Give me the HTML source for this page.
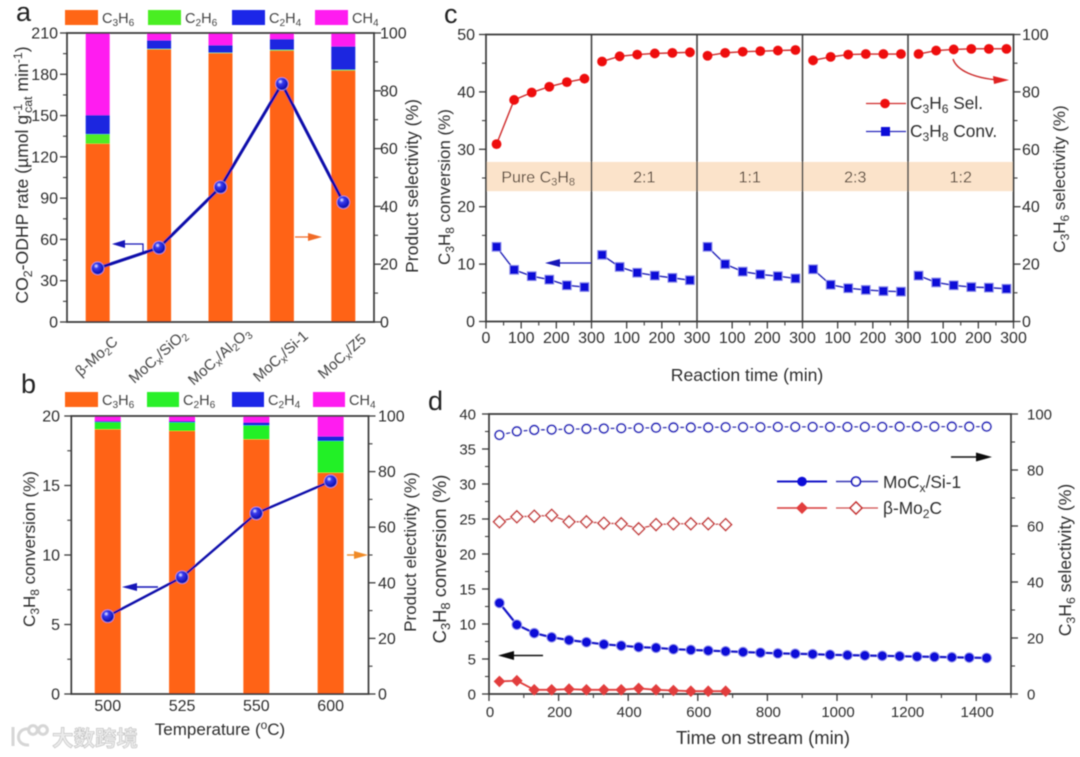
<!DOCTYPE html>
<html lang="en">
<head>
<meta charset="utf-8">
<title>Catalyst performance charts</title>
<style>
html,body{margin:0;padding:0;background:#fff;width:1080px;height:757px;overflow:hidden}
svg{display:block}
text{font-family:"Liberation Sans","Noto Sans CJK SC",sans-serif;fill:#2e2e2e}
.t{font-size:16px}
.dt{font-size:15px}
.ti{font-size:17px}
.tl{font-size:17.6px}
.td{font-size:18.4px}
.lg{font-size:14.5px;fill:#444}
.lc{font-size:17.3px}
.sb{font-size:.7em;baseline-shift:-.3em}
.sp{font-size:.7em;baseline-shift:.5em}
.pl{font-size:27px;fill:#222}
</style>
</head>
<body>
<svg id="chart" xmlns="http://www.w3.org/2000/svg" width="1080" height="757" viewBox="0 0 1080 757">
<defs>
<filter id="soft" x="-2%" y="-2%" width="104%" height="104%"><feGaussianBlur stdDeviation="0.42"/></filter>
<radialGradient id="ball" cx="38%" cy="32%" r="68%"><stop offset="0" stop-color="#f0f2ff"/><stop offset=".28" stop-color="#3a3cf0"/><stop offset="1" stop-color="#0808a8"/></radialGradient>
</defs>
<g id="root" filter="url(#soft)">

<g>
<g fill="none" stroke="#d6d6d6" stroke-width="3">
<path d="M13 727 L13 746"/><path d="M29 729 C16 727 14 746 29 745"/><circle cx="33" cy="730" r="4.4"/><circle cx="43" cy="730" r="4.4"/>
</g>
<text x="52" y="746" font-size="21.5" font-weight="700" style="fill:#ebebeb;stroke:#bdbdbd;stroke-width:.6">大数跨境</text>
</g>

<text class="pl" x="16" y="21">a</text>
<text class="pl" x="21" y="393">b</text>
<text class="pl" x="444" y="23">c</text>
<text class="pl" x="428" y="410">d</text>

<g>
<rect x="65" y="10" width="33" height="15" fill="#ff6618"/><text class="lg" x="102" y="23">C<tspan class="sb">3</tspan>H<tspan class="sb">6</tspan></text>
<rect x="148" y="10" width="33" height="15" fill="#48ee24"/><text class="lg" x="185" y="23">C<tspan class="sb">2</tspan>H<tspan class="sb">6</tspan></text>
<rect x="232" y="10" width="33" height="15" fill="#1a26e8"/><text class="lg" x="269" y="23">C<tspan class="sb">2</tspan>H<tspan class="sb">4</tspan></text>
<rect x="315" y="10" width="33" height="15" fill="#ff1cf0"/><text class="lg" x="352" y="23">CH<tspan class="sb">4</tspan></text>
</g>
<g>
<rect x="65" y="392" width="33" height="15" fill="#ff6618"/><text class="lg" x="102" y="405">C<tspan class="sb">3</tspan>H<tspan class="sb">6</tspan></text>
<rect x="147" y="392" width="32" height="15" fill="#2cf02c"/><text class="lg" x="183" y="405">C<tspan class="sb">2</tspan>H<tspan class="sb">6</tspan></text>
<rect x="232" y="392" width="32" height="15" fill="#1a26e8"/><text class="lg" x="268" y="405">C<tspan class="sb">2</tspan>H<tspan class="sb">4</tspan></text>
<rect x="313" y="392" width="32" height="15" fill="#ff1cf0"/><text class="lg" x="349" y="405">CH<tspan class="sb">4</tspan></text>
</g>

<g id="panelA"></g>
<g id="panelB"></g>
<g id="panelC"></g>
<g id="panelD"></g>

<text class="tl" transform="translate(28 175) rotate(-90)" text-anchor="middle">CO<tspan class="sb">2</tspan>-ODHP rate (µmol g<tspan class="sp">-1</tspan><tspan class="sb" dx="-9">cat</tspan> min<tspan class="sp">-1</tspan>)</text>
<text class="tl" transform="translate(418 186) rotate(-90)" text-anchor="middle">Product selectivity (%)</text>
<text class="ti" transform="translate(35 549) rotate(-90)" text-anchor="middle">C<tspan class="sb">3</tspan>H<tspan class="sb">8</tspan> conversion (%)</text>
<text class="ti" transform="translate(416 552) rotate(-90)" text-anchor="middle">Product electivity (%)</text>
<text class="ti" x="220" y="735" text-anchor="middle">Temperature (<tspan class="sp">o</tspan>C)</text>
<text class="ti" transform="translate(450 187) rotate(-90)" text-anchor="middle">C<tspan class="sb">3</tspan>H<tspan class="sb">8</tspan> conversion (%)</text>
<text class="ti" transform="translate(1065 179) rotate(-90)" text-anchor="middle">C<tspan class="sb">3</tspan>H<tspan class="sb">6</tspan> selectivity (%)</text>
<text class="tl" x="747" y="381" text-anchor="middle">Reaction time (min)</text>
<text class="td" transform="translate(446 559) rotate(-90)" text-anchor="middle">C<tspan class="sb">3</tspan>H<tspan class="sb">8</tspan> conversion (%)</text>
<text class="tl" transform="translate(1071 560) rotate(-90)" text-anchor="middle">C<tspan class="sb">3</tspan>H<tspan class="sb">6</tspan> selectivity (%)</text>
<text class="td" x="763" y="744" text-anchor="middle">Time on stream (min)</text>

<g>
<text class="lc" x="910" y="109">C<tspan class="sb">3</tspan>H<tspan class="sb">6</tspan> Sel.</text>
<text class="lc" x="910" y="137">C<tspan class="sb">3</tspan>H<tspan class="sb">8</tspan> Conv.</text>
<line x1="866" y1="103.5" x2="906" y2="103.5" stroke="#cf2a2a" stroke-width="1.3"/>
<circle cx="885" cy="103.5" r="4.8" fill="#ee1111"/>
<line x1="866" y1="131.5" x2="906" y2="131.5" stroke="#2626bb" stroke-width="1.3"/>
<rect x="881" y="127" width="9" height="9" fill="#0b0bd8"/>
</g>

<g>
<line x1="777" y1="481.5" x2="827" y2="481.5" stroke="#1414c8" stroke-width="2"/>
<circle cx="802" cy="481.5" r="4.8" fill="#0b0bd8"/>
<line x1="836" y1="481.5" x2="878" y2="481.5" stroke="#3434b4" stroke-width="1.4"/>
<circle cx="856" cy="481.5" r="4.4" fill="#fff" stroke="#1414c0" stroke-width="1.8"/>
<text class="lc" x="883" y="488">MoC<tspan class="sb">x</tspan>/Si-1</text>
<line x1="777" y1="508" x2="827" y2="508" stroke="#d83a3a" stroke-width="1.6"/>
<path d="M802 502 L808 508 L802 514 L796 508 Z" fill="#e23c3c"/>
<line x1="836" y1="508" x2="878" y2="508" stroke="#d05050" stroke-width="1.3"/>
<path d="M856 502 L862 508 L856 514 L850 508 Z" fill="#fff" stroke="#c83030" stroke-width="1.6"/>
<text class="lc" x="883" y="514">β-Mo<tspan class="sb">2</tspan>C</text>
</g>

<g>
<path d="M143 252 L143 244 L118 244" fill="none" stroke="#1414b8" stroke-width="1.2"/>
<path d="M112 244 L125 240 L125 248 Z" fill="#1414b8"/>
<path d="M295 237 L312 237" stroke="#f06a28" stroke-width="1.3"/>
<path d="M322 237 L308 233 L308 241 Z" fill="#f06a28"/>
<path d="M158 587 L130 587" stroke="#1414b8" stroke-width="1.4"/>
<path d="M122 587 L137 583 L137 591 Z" fill="#1414b8"/>
<path d="M347 555 L358 555" stroke="#f08a28" stroke-width="1.4"/>
<path d="M368 555 L354 551 L354 559 Z" fill="#f08a28"/>
<path d="M591 263 L552 263" stroke="#1414b8" stroke-width="1.3"/>
<path d="M545 263 L560 259 L560 267 Z" fill="#1414b8"/>
<path d="M953 59 C957 71 975 78 998 80" fill="none" stroke="#cc2a2a" stroke-width="1.4"/>
<path d="M1009 80 L993 76 L994 84 Z" fill="#e02020"/>
<path d="M543 655.5 L508 655.5" stroke="#111" stroke-width="1.6"/>
<path d="M498 655.5 L514 651 L514 660 Z" fill="#111"/>
<path d="M951 457 L982 457" stroke="#111" stroke-width="1.6"/>
<path d="M992 457 L976 452.5 L976 461.5 Z" fill="#111"/>
</g>
</g>
</svg>

<script>
/* ---------- panel a data ---------- */
const catsA = ["β-Mo_2C", "MoC_x/SiO_2", "MoC_x/Al_2O_3", "MoC_x/Si-1", "MoC_x/Z5"];
const aC3H6 = [61.7, 94.3, 93.0, 93.9, 87.0];
const aC2H6 = [3.3, 0.2, 0.2, 0.3, 0.3];
const aC2H4 = [6.6, 3.0, 2.6, 3.7, 8.1];
const aCH4 = [28.4, 2.5, 4.2, 2.1, 4.6];
const aRate = [39, 54, 98, 173, 87];
const aLeftTicks = [0, 30, 60, 90, 120, 150, 180, 210];
const aRightTicks = [0, 20, 40, 60, 80, 100];

/* ---------- panel b data ---------- */
const catsB = ["500", "525", "550", "600"];
const bC3H6 = [95.2, 94.6, 91.6, 79.6];
const bC2H6 = [2.6, 3.1, 5.0, 11.4];
const bC2H4 = [0.4, 0.5, 1.1, 1.7];
const bCH4 = [1.8, 1.8, 2.3, 7.3];
const bConversion = [5.6, 8.4, 13.0, 15.3];
const bLeftTicks = [0, 5, 10, 15, 20];
const bRightTicks = [0, 20, 40, 60, 80, 100];

/* ---------- panel c data ---------- */
const cRatios = ["Pure C_3H_8", "2:1", "1:1", "2:3", "1:2"];
const cTimes = [30, 80, 130, 180, 230, 280];
const cSelectivity = [
  [61.8, 77.2, 79.8, 81.8, 83.4, 84.6],
  [90.6, 92.4, 93.0, 93.4, 93.6, 93.8],
  [92.6, 93.6, 94.0, 94.2, 94.4, 94.6],
  [91.0, 92.2, 93.0, 93.2, 93.2, 93.2],
  [93.2, 94.4, 94.8, 95.0, 95.0, 95.0]
];
const cConversion = [
  [13.0, 9.0, 7.9, 7.3, 6.3, 6.0],
  [11.6, 9.5, 8.5, 8.0, 7.6, 7.2],
  [13.0, 10.0, 8.7, 8.2, 7.9, 7.5],
  [9.1, 6.4, 5.8, 5.5, 5.3, 5.2],
  [8.0, 6.8, 6.3, 6.0, 5.9, 5.7]
];
const cLeftTicks = [0, 10, 20, 30, 40, 50];
const cRightTicks = [0, 20, 40, 60, 80, 100];
const cTimeTicks = [0, 100, 200, 300];

/* ---------- panel d data ---------- */
const dTimes = [30, 80, 130, 180, 230, 280, 330, 380, 430, 480, 530, 580, 630, 680, 730, 780, 830, 880, 930, 980, 1030, 1080, 1130, 1180, 1230, 1280, 1330, 1380, 1430];
const dMocConv = [13, 9.9, 8.7, 8.1, 7.7, 7.4, 7.1, 6.9, 6.7, 6.6, 6.4, 6.3, 6.2, 6.1, 6.0, 5.9, 5.8, 5.75, 5.7, 5.6, 5.55, 5.5, 5.45, 5.4, 5.35, 5.3, 5.25, 5.2, 5.15];
const dMocSel = [92.5, 93.8, 94.3, 94.4, 94.6, 94.7, 94.8, 94.9, 95.0, 95.1, 95.2, 95.2, 95.2, 95.3, 95.3, 95.3, 95.4, 95.4, 95.4, 95.4, 95.4, 95.4, 95.4, 95.5, 95.5, 95.5, 95.5, 95.5, 95.5];
const dMo2cTimes = [30, 80, 130, 180, 230, 280, 330, 380, 430, 480, 530, 580, 630, 680];
const dMo2cConv = [1.8, 1.9, 0.6, 0.6, 0.7, 0.6, 0.6, 0.6, 0.8, 0.6, 0.5, 0.4, 0.4, 0.4];
const dMo2cSel = [61.5, 63.3, 63.5, 63.8, 61.5, 61.5, 61.0, 60.8, 59.0, 60.5, 60.8, 60.8, 60.8, 60.5];
const dLeftTicks = [0, 5, 10, 15, 20, 25, 30, 35, 40];
const dRightTicks = [0, 20, 40, 60, 80, 100];
const dTimeTicks = [0, 200, 400, 600, 800, 1000, 1200, 1400];

const NS = "http://www.w3.org/2000/svg";
const AXIS = "#3a3a3a";

function el(parent, tag, attrs) {
  const e = document.createElementNS(NS, tag);
  for (const k in attrs) e.setAttribute(k, attrs[k]);
  parent.appendChild(e);
  return e;
}
function linear(d0, d1, r0, r1) {
  return function (v) { return r0 + (v - d0) * (r1 - r0) / (d1 - d0); };
}
function rich(node, s) {
  node.innerHTML = s.replace(/_(\w)/g, '<tspan class="sb">$1</tspan>');
}
function frame(g, L, R, T, B) {
  const f = el(g, "path", { d: "M" + L + " " + B + " L" + L + " " + T + " L" + R + " " + T + " L" + R + " " + B + " Z", fill: "none", stroke: AXIS, "stroke-width": 1.7 });
  
  
}
function yAxis(g, scale, ticks, minorStep, xAxis, side, cls, labelX) {
  const ax = el(g, "g", {});
  
  
  ticks.forEach(function (v, i) {
    const y = scale(v);
    const t = el(ax, "line", { x1: xAxis, x2: xAxis + side * 7, y1: y, y2: y, stroke: AXIS, "stroke-width": 1.3 });
    
    
    const lab = el(ax, "text", { x: labelX, y: y + 5.5, class: cls, "text-anchor": side < 0 ? "end" : "start" });
    lab.textContent = String(v);
    
    
    if (i < ticks.length - 1) {
      const my = scale(v + minorStep);
      const m = el(ax, "line", { x1: xAxis, x2: xAxis + side * 4, y1: my, y2: my, stroke: AXIS, "stroke-width": 1.1 });
      
      
    }
  });
}
function stackedBars(g, cats, series, colors, xc, w, y) {
  cats.forEach(function (c, i) {
    let acc = 0;
    series.forEach(function (s, k) {
      const r = el(g, "rect", { x: xc(i) - w / 2, y: y(acc + s[i]), width: w, height: y(acc) - y(acc + s[i]), fill: colors[k] });
      
      
      acc += s[i];
    });
  });
}
function ballLine(g, xs, ys, width) {
  const d = xs.map(function (x, i) { return (i ? "L" : "M") + x + " " + ys[i]; }).join(" ");
  const p = el(g, "path", { d: d, fill: "none", stroke: "#0d0daa", "stroke-width": width, "stroke-linejoin": "round" });
  
  
  xs.forEach(function (x, i) {
    const c = el(g, "circle", { cx: x, cy: ys[i], r: 6.3, fill: "url(#ball)", stroke: "#8f8ff0", "stroke-width": .7 });
    
    
  });
}
const BAR_COLORS_A = ["#ff6414", "#50ec28", "#1a26e0", "#ff1cf0"];
const BAR_COLORS_B = ["#ff6414", "#22f028", "#1a26e0", "#ff1cf0"];

/* panel a */
(function () {
  const g = document.getElementById("panelA");
  const L = 67, R = 374, T = 33, B = 322;
  const yPct = linear(0, 100, B, T), yRate = linear(0, 210, B, T);
  const step = (R - L) / catsA.length;
  const xc = function (i) { return L + step * (i + .5); };
  stackedBars(g, catsA, [aC3H6, aC2H6, aC2H4, aCH4], BAR_COLORS_A, xc, 24, yPct);
  frame(g, L, R, T, B);
  yAxis(g, yRate, aLeftTicks, 15, L, -1, "t", 58);
  yAxis(g, yPct, aRightTicks, 10, R, 1, "t", 380);
  catsA.forEach(function (c, i) {
    const x = xc(i);
    const lab = el(g, "text", { transform: "translate(" + (x + 2) + " 360) rotate(-42)", class: "lg", "text-anchor": "middle", style: "font-size:15px" });
    rich(lab, c);
    
    
  });
  ballLine(g, catsA.map(function (c, i) { return xc(i); }), aRate.map(yRate), 3);
})();

/* panel b */
(function () {
  const g = document.getElementById("panelB");
  const L = 71.3, R = 368.5, T = 416, B = 694;
  const yPct = linear(0, 100, B, T), yConv = linear(0, 20, B, T);
  const step = (R - L) / catsB.length;
  const xc = function (i) { return L + step * (i + .5) - .7; };
  stackedBars(g, catsB, [bC3H6, bC2H6, bC2H4, bCH4], BAR_COLORS_B, xc, 26, yPct);
  frame(g, L, R, T, B);
  yAxis(g, yConv, bLeftTicks, 2.5, L, -1, "t", 60);
  yAxis(g, yPct, bRightTicks, 10, R, 1, "t", 378);
  catsB.forEach(function (c, i) {
    const lab = el(g, "text", { x: xc(i), y: 711, class: "t", "text-anchor": "middle" });
    lab.textContent = c;
    
    
  });
  ballLine(g, catsB.map(function (c, i) { return xc(i); }), bConversion.map(yConv), 2.4);
})();

/* panel c */
(function () {
  const g = document.getElementById("panelC");
  const L = 486, R = 1013.5, T = 34.5, B = 321.5;
  const segW = (R - L) / cRatios.length;
  const xs = function (seg, t) { return L + segW * (seg + t / 300); };
  const yL = linear(0, 50, B, T), yR = linear(0, 100, B, T);
  const band = el(g, "rect", { x: L, y: yL(27.8), width: R - L, height: yL(22.7) - yL(27.8), fill: "#fbe3ca" });
  
  
  cRatios.forEach(function (r, s) {
    const lab = el(g, "text", { x: xs(s, 150) + (s === 0 ? -.5 : 0), y: 182.5, class: "t", "text-anchor": "middle", style: "fill:#5a4a3a" });
    rich(lab, r);
    
    
    if (s > 0) {
      const d = el(g, "line", { x1: xs(s, 0), x2: xs(s, 0), y1: T, y2: B, stroke: AXIS, "stroke-width": 1.5 });
      
      
    }
  });
  frame(g, L, R, T, B);
  yAxis(g, yL, cLeftTicks, 5, L, -1, "t", 475);
  yAxis(g, yR, cRightTicks, 10, R, 1, "t", 1022);
  cRatios.forEach(function (r, s) {
    cTimeTicks.forEach(function (v, i) {
      if (s > 0 && i === 0) return;
      const x = xs(s, v);
      const t = el(g, "line", { x1: x, x2: x, y1: B, y2: B + 7, stroke: AXIS, "stroke-width": 1.3 });
      
      
      const lab = el(g, "text", { x: x, y: 343, class: "t", "text-anchor": "middle" });
      lab.textContent = String(v);
      
      
      if (i < cTimeTicks.length - 1) {
        const mx = xs(s, v + 50);
        const m = el(g, "line", { x1: mx, x2: mx, y1: B, y2: B + 4, stroke: AXIS, "stroke-width": 1.1 });
        
        
      }
    });
    const sel = el(g, "path", { d: cTimes.map(function (t, i) { return (i ? "L" : "M") + xs(s, t) + " " + yR(cSelectivity[s][i]); }).join(" "), fill: "none", stroke: "#cf2a2a", "stroke-width": 1.4 });
    
    
    const con = el(g, "path", { d: cTimes.map(function (t, i) { return (i ? "L" : "M") + xs(s, t) + " " + yL(cConversion[s][i]); }).join(" "), fill: "none", stroke: "#2222b8", "stroke-width": 1.4 });
    
    
    cTimes.forEach(function (t, i) {
      const c = el(g, "circle", { cx: xs(s, t), cy: yR(cSelectivity[s][i]), r: 4.9, fill: "#ee1111" });
      
      
      const q = el(g, "rect", { x: xs(s, t) - 4.5, y: yL(cConversion[s][i]) - 4.5, width: 9, height: 9, fill: "#0b0bd8", stroke: "#9a9af0", "stroke-width": .8 });
      
      
    });
  });
})();

/* panel d */
(function () {
  const g = document.getElementById("panelD");
  const L = 489, R = 1011, T = 414, B = 694;
  const x = linear(0, 1500, L, R);
  const yL = linear(0, 40, B, T), yR = linear(0, 100, B, T);
  frame(g, L, R, T, B);
  yAxis(g, yL, dLeftTicks, 2.5, L, -1, "dt", 476);
  yAxis(g, yR, dRightTicks, 10, R, 1, "dt", 1027);
  dTimeTicks.forEach(function (v) {
    const t = el(g, "line", { x1: x(v), x2: x(v), y1: B, y2: B + 7, stroke: AXIS, "stroke-width": 1.3 });
    
    
    const lab = el(g, "text", { x: x(v) + 1, y: 717, class: "dt", "text-anchor": "middle" });
    lab.textContent = String(v);
    
    
    const m = el(g, "line", { x1: x(v + 100), x2: x(v + 100), y1: B, y2: B + 4, stroke: AXIS, "stroke-width": 1.1 });
    
    
  });
  function pathOf(ts, vs, sc) {
    return ts.map(function (t, i) { return (i ? "L" : "M") + x(t) + " " + sc(vs[i]); }).join(" ");
  }
  function diamond(cx, cy, r) {
    return "M" + cx + " " + (cy - r) + " L" + (cx + r) + " " + cy + " L" + cx + " " + (cy + r) + " L" + (cx - r) + " " + cy + " Z";
  }
  const l1 = el(g, "path", { d: pathOf(dTimes, dMocSel, yR), fill: "none", stroke: "#3434b4", "stroke-width": 1.3 });
  
  
  const l2 = el(g, "path", { d: pathOf(dMo2cTimes, dMo2cSel, yR), fill: "none", stroke: "#c84040", "stroke-width": 1.3 });
  
  
  const l3 = el(g, "path", { d: pathOf(dTimes, dMocConv, yL), fill: "none", stroke: "#1414c8", "stroke-width": 2.2 });
  
  
  const l4 = el(g, "path", { d: pathOf(dMo2cTimes, dMo2cConv, yL), fill: "none", stroke: "#e03c3c", "stroke-width": 1.8 });
  
  
  dTimes.forEach(function (t, i) {
    const h = el(g, "circle", { cx: x(t), cy: yR(dMocSel[i]), r: 6.6, fill: "#fff" });
    
    
    const a = el(g, "circle", { cx: x(t), cy: yR(dMocSel[i]), r: 4.4, fill: "#fff", stroke: "#1414c0", "stroke-width": 1.8 });
    
    
    const b = el(g, "circle", { cx: x(t), cy: yL(dMocConv[i]), r: 5, fill: "#0b0bd8", stroke: "#a8a8f4", "stroke-width": .7 });
    
    
  });
  dMo2cTimes.forEach(function (t, i) {
    const h = el(g, "path", { d: diamond(x(t), yR(dMo2cSel[i]), 7.8), fill: "#fff" });
    
    
    const a = el(g, "path", { d: diamond(x(t), yR(dMo2cSel[i]), 6), fill: "#fff", stroke: "#c83030", "stroke-width": 1.6 });
    
    
    const b = el(g, "path", { d: diamond(x(t), yL(dMo2cConv[i]), 5.8), fill: "#e23c3c" });
    
    
  });
})();
</script>
</body>
</html>
